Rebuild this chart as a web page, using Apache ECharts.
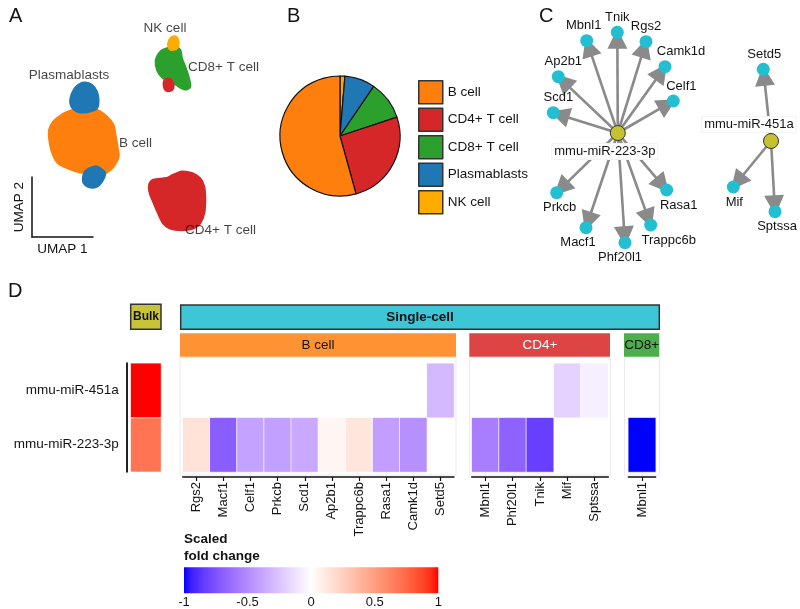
<!DOCTYPE html>
<html><head><meta charset="utf-8">
<script src="https://cdn.jsdelivr.net/npm/echarts/dist/echarts.min.js"></script>
<style>html,body{margin:0;padding:0;background:#fff}#c{width:800px;height:609px}</style>
</head><body><div id="c"></div>
<script>
// ---------------- DATA ----------------
// Panel A: UMAP cluster outlines (UMAP units)
const bCellOutline = [[68.3,111.7],[80,108.3],[96.7,110],[106.7,116.7],[113.3,125],[115,133.3],[117.3,146.7],[118.3,156.7],[113.3,166.7],[105,173.3],[100,176],[88.3,173.3],[78.3,171.7],[68.3,168.3],[58.3,163.3],[53.3,155],[50,143.3],[49.3,130],[53.3,121.7],[61.7,115]];
const plasmaTopOutline = [[85,82.7],[91.7,85],[96.7,91.7],[98.3,100],[96.7,108.3],[88.3,111.7],[78.3,111.7],[71.7,106.7],[70.7,98.3],[75,88.3],[80,84]];
const plasmaLowOutline = [[85,171.7],[95,166.7],[100,168.3],[105,173.3],[101.7,181.7],[96.7,186.7],[88.3,186.7],[83.3,181.7]];
const cd8Outline = [[163.3,50],[173.3,46.7],[180,50],[181.7,58.3],[185,66.7],[188.3,76.7],[190,86.7],[185,89.3],[176.7,85],[170,80],[163.3,78.3],[157.3,70],[156,60],[159.3,53.3]];
const cd4SmallOutline = [[165,80],[170,79.3],[173.3,85],[171.7,90],[166.7,90.7],[164,86]];
const cd4Outline = [[153.3,180],[166.7,178.3],[173.3,175],[181.7,171.7],[191.7,173.3],[200,178.3],[204,186.7],[205,200],[204,213.3],[200,223.3],[193.3,228.3],[181.7,230],[170,228.3],[163.3,223.3],[158.3,213.3],[154,203.3],[150,193.3],[149.3,185]];
const nkOutline = [[168.3,43.3],[171.7,37.3],[176,36.7],[178.3,41.7],[176.7,48.3],[170,49.3]];
const umapOutlines = [bCellOutline, plasmaTopOutline, plasmaLowOutline, cd8Outline, cd4SmallOutline, cd4Outline, nkOutline];
const umapOutlineType = ['B cell','Plasmablasts','Plasmablasts','CD8+ T cell','CD4+ T cell','CD4+ T cell','NK cell'];
const umapLabels = ['NK cell','CD8+ T cell','Plasmablasts','B cell','CD4+ T cell'];
const umapLabelX = [165,188,69,119,185];
const umapLabelY = [28,67,75,143,230];

// Panel B: cell composition (%)
const cellTypes = ['B cell','CD4+ T cell','CD8+ T cell','Plasmablasts','NK cell'];
const cellColors = ['#ff7f0e','#d62728','#2ca02c','#1f77b4','#ffab00'];
const pieOrder = ['NK cell','Plasmablasts','CD8+ T cell','CD4+ T cell','B cell'];
const piePercent = [1.3, 8.2, 10.4, 25.8, 54.3];

// Panel C: network
const mirNames = ['mmu-miR-223-3p','mmu-miR-451a'];
const mirX = [617.8, 771];
const mirY = [133, 141];
const targetNames = ['Mbnl1','Tnik','Rgs2','Camk1d','Celf1','Ap2b1','Scd1','Prkcb','Macf1','Phf20l1','Trappc6b','Rasa1','Setd5','Mif','Sptssa'];
const targetMir   = [0,0,0,0,0,0,0,0,0,0,0,0,1,1,1];
const targetX = [586.7,617.3,646,665,673.3,558.3,553.3,556.7,586,625,650.7,666.7,763.3,733.3,775];
const targetY = [40.7,32.3,41.7,66.7,101,76.7,112.7,192.7,227.7,242.7,225,190,69.3,187,211.7];

// Panel D: scaled fold change
const rowNames = ['mmu-miR-223-3p','mmu-miR-451a'];
const bulkValues = [0.69, 1];              // [223-3p, 451a]
const genesB = ['Rgs2','Macf1','Celf1','Prkcb','Scd1','Ap2b1','Trappc6b','Rasa1','Camk1d','Setd5'];
const bCell223 = [0.15,-0.70,-0.40,-0.41,-0.37,0.05,0.13,-0.42,-0.48,null];
const bCell451 = [null,null,null,null,null,null,null,null,null,-0.30];
const genesCD4 = ['Mbnl1','Phf20l1','Tnik','Mif','Sptssa'];
const cd4223 = [-0.56,-0.68,-0.83,null,null];
const cd4451 = [null,null,null,-0.19,-0.065];
const genesCD8 = ['Mbnl1'];
const cd8223 = [-1];
const cd8451 = [null];
const colorbarRange = [-1, 1];

// ---------------- COLOR (LAB interpolation blue-white-red) ----------------
function hexToRgb(h){return [parseInt(h.slice(1,3),16),parseInt(h.slice(3,5),16),parseInt(h.slice(5,7),16)];}
function s2l(c){c/=255;return c<=0.04045?c/12.92:Math.pow((c+0.055)/1.055,2.4);}
function l2s(c){c=c<=0.0031308?12.92*c:1.055*Math.pow(Math.max(c,0),1/2.4)-0.055;return Math.round(Math.max(0,Math.min(1,c))*255);}
function rgbToLab(rgb){const [r,g,b]=rgb.map(s2l);
  const X=(0.4124*r+0.3576*g+0.1805*b)/0.95047,Y=0.2126*r+0.7152*g+0.0722*b,Z=(0.0193*r+0.1192*g+0.9505*b)/1.08883;
  const f=t=>t>0.008856?Math.cbrt(t):7.787*t+16/116;const fx=f(X),fy=f(Y),fz=f(Z);
  return [116*fy-16,500*(fx-fy),200*(fy-fz)];}
function labToRgb(lab){const fy=(lab[0]+16)/116,fx=fy+lab[1]/500,fz=fy-lab[2]/200;
  const fi=t=>t>0.206893?t*t*t:(t-16/116)/7.787;
  const X=fi(fx)*0.95047,Y=fi(fy),Z=fi(fz)*1.08883;
  const r=3.2406*X-1.5372*Y-0.4986*Z,g=-0.9689*X+1.8758*Y+0.0415*Z,b=0.0557*X-0.2040*Y+1.0570*Z;
  return 'rgb('+l2s(r)+','+l2s(g)+','+l2s(b)+')';}
const LW=rgbToLab(hexToRgb('#ffffff')),LB=rgbToLab(hexToRgb('#0000ff')),LR=rgbToLab(hexToRgb('#ff0000'));
function colorAt(v){const e=v<0?LB:LR,t=Math.min(1,Math.abs(v));return labToRgb([0,1,2].map(i=>LW[i]+(e[i]-LW[i])*t));}
const rampStops=[];for(let i=0;i<=40;i++){rampStops.push(colorAt(-1+i*0.05));}

// ---------------- CHART ----------------
const FONT='"Liberation Sans", Arial, Helvetica, sans-serif';
const TXT='#141414';
const chart=echarts.init(document.getElementById('c'),null,{renderer:'canvas'});
const typeColor=n=>cellColors[cellTypes.indexOf(n)];

function hm(genes,vals223,vals451){const d=[];genes.forEach((g,i)=>{if(vals223[i]!=null)d.push([i,0,vals223[i]]);if(vals451[i]!=null)d.push([i,1,vals451[i]]);});return d;}

const hiddenAxis=(extra)=>Object.assign({show:false,axisLine:{show:false},axisTick:{show:false},axisLabel:{show:false},splitLine:{show:false}},extra);
const geneAxis=(idx,genes)=>({type:'category',gridIndex:idx,data:genes,offset:5,
  axisLine:{show:true,onZero:false,lineStyle:{color:'#111',width:1.5}},
  axisTick:{show:true,alignWithLabel:true,length:4,lineStyle:{color:'#111',width:1.2}},
  axisLabel:{rotate:90,fontSize:13,color:TXT,fontFamily:FONT,margin:5},splitLine:{show:false}});

const grids=[
  {left:32,top:177,width:61,height:60},          // 0 UMAP
  {left:530,top:0,width:270,height:270},         // 1 network
  {left:130.7,top:363.3,width:30.3,height:108.5},// 2 bulk
  {left:182.7,top:363.3,width:271.3,height:108.7},// 3 B cell
  {left:471.7,top:363.3,width:136.6,height:108.7},// 4 CD4
  {left:628.3,top:363.3,width:27.4,height:108.7}, // 5 CD8
  {left:184,top:567.3,width:254.3,height:26}      // 6 colorbar
].map(g=>Object.assign({outerBoundsMode:'none',containLabel:false},g));

const xAxes=[
  {type:'value',gridIndex:0,min:32,max:93,name:'UMAP 1',nameLocation:'middle',nameGap:5,
   nameTextStyle:{fontSize:13.5,color:TXT,fontFamily:FONT,verticalAlign:'top'},
   axisLine:{show:true,onZero:false,lineStyle:{color:'#111',width:1.5}},axisTick:{show:false},axisLabel:{show:false},splitLine:{show:false}},
  hiddenAxis({type:'value',gridIndex:1,min:530,max:800}),
  hiddenAxis({type:'category',gridIndex:2,data:['Bulk']}),
  geneAxis(3,genesB),geneAxis(4,genesCD4),geneAxis(5,genesCD8),
  {type:'value',gridIndex:6,min:-1,max:1,interval:0.5,axisLine:{show:false},axisTick:{show:false},splitLine:{show:false},
   axisLabel:{fontSize:13,color:TXT,fontFamily:FONT,margin:3}}
];
const yAxes=[
  {type:'value',gridIndex:0,min:177,max:237,inverse:true,name:'UMAP 2',nameLocation:'middle',nameGap:6,nameRotate:90,
   nameTextStyle:{fontSize:13.5,color:TXT,fontFamily:FONT},
   axisLine:{show:true,onZero:false,lineStyle:{color:'#111',width:1.5}},axisTick:{show:false},axisLabel:{show:false},splitLine:{show:false}},
  hiddenAxis({type:'value',gridIndex:1,min:0,max:270,inverse:true}),
  {type:'category',gridIndex:2,data:rowNames,offset:4,axisLine:{show:true,onZero:false,lineStyle:{color:'#222',width:2}},
   axisTick:{show:false},axisLabel:{fontSize:13.5,color:TXT,fontFamily:FONT,margin:8},splitLine:{show:false}},
  hiddenAxis({type:'category',gridIndex:3,data:rowNames}),
  hiddenAxis({type:'category',gridIndex:4,data:rowNames}),
  hiddenAxis({type:'category',gridIndex:5,data:rowNames}),
  hiddenAxis({type:'value',gridIndex:6,min:0,max:1})
];

// network nodes/links
const labelPlace={ // position, dx, distance
  'Mbnl1':['top',-3,2],'Tnik':['top',0,2],'Rgs2':['top',0,2],'Camk1d':['top',16,2],'Celf1':['top',8,2],'Ap2b1':['top',5,2],'Scd1':['top',5,2],
  'Prkcb':['bottom',3,2],'Macf1':['bottom',-8,2],'Phf20l1':['bottom',-5,2],'Trappc6b':['bottom',18,2],'Rasa1':['bottom',12,2],
  'Setd5':['top',1,2],'Mif':['bottom',1,2],'Sptssa':['bottom',2,2],
  'mmu-miR-223-3p':['bottom',-13,3],'mmu-miR-451a':['top',-22,1]};
const nodes=[];
mirNames.forEach((n,i)=>nodes.push({name:n,value:[mirX[i],mirY[i]],symbolSize:15,
  itemStyle:{color:'#c6c22f',borderColor:'#333',borderWidth:1},
  label:{position:labelPlace[n][0],offset:[labelPlace[n][1],0],distance:labelPlace[n][2],backgroundColor:'rgba(255,255,255,0.93)',borderColor:'#f3f3f3',borderWidth:1,padding:[1,2]}}));
targetNames.forEach((n,i)=>nodes.push({name:n,value:[targetX[i],targetY[i]],symbolSize:13,
  itemStyle:{color:'#22bfd1',borderWidth:0},label:{position:labelPlace[n][0],offset:[labelPlace[n][1],0],distance:labelPlace[n][2]}}));
const links=targetNames.map((n,i)=>({source:mirNames[targetMir[i]],target:n}));

const series=[];
// A: clusters
series.push({type:'custom',xAxisIndex:0,yAxisIndex:0,clip:false,silent:true,
  data:umapOutlines.map(o=>[o[0][0],o[0][1]]),encode:{x:0,y:1},
  renderItem:function(params,api){
    const poly=umapOutlines[params.dataIndex];const col=typeColor(umapOutlineType[params.dataIndex]);
    return {type:'polygon',shape:{points:poly.map(p=>api.coord(p)),smooth:0.3},style:{fill:col,stroke:col,lineWidth:2.5,lineJoin:'round'}};
  }});
series.push({type:'scatter',xAxisIndex:0,yAxisIndex:0,clip:false,silent:true,symbolSize:0,
  data:umapLabels.map((l,i)=>({name:l,value:[umapLabelX[i],umapLabelY[i]],
    label:{align:(l==='NK cell'||l==='Plasmablasts')?'center':'left'}})),
  label:{show:true,position:'inside',formatter:'{b}',fontSize:13.5,color:TXT,fontFamily:FONT,verticalAlign:'middle'}});
// B: pie
series.push({type:'pie',center:[340,136],radius:60,startAngle:90,clockwise:true,label:{show:false},labelLine:{show:false},
  silent:true,itemStyle:{borderColor:'#111',borderWidth:1.2},
  data:pieOrder.map((n,i)=>({name:n,value:piePercent[i],itemStyle:{color:typeColor(n)}}))});
// C: network
series.push({type:'graph',coordinateSystem:'cartesian2d',xAxisIndex:1,yAxisIndex:1,layout:'none',roam:false,silent:true,
  data:nodes,links:links,edgeSymbol:['none','triangle'],edgeSymbolSize:[0,20],
  lineStyle:{color:'#8a8a8a',width:2.6,opacity:1,curveness:0},
  label:{show:true,fontSize:13,color:TXT,fontFamily:FONT}});
// D: heatmaps
const hmStart=series.length;
const cellStyle={borderColor:'rgba(255,255,255,0.7)',borderWidth:1};
series.push({type:'heatmap',xAxisIndex:2,yAxisIndex:2,data:[[0,0,bulkValues[0]],[0,1,bulkValues[1]]],itemStyle:cellStyle,silent:true});
series.push({type:'heatmap',xAxisIndex:3,yAxisIndex:3,data:hm(genesB,bCell223,bCell451),itemStyle:cellStyle,silent:true});
series.push({type:'heatmap',xAxisIndex:4,yAxisIndex:4,data:hm(genesCD4,cd4223,cd4451),itemStyle:cellStyle,silent:true});
series.push({type:'heatmap',xAxisIndex:5,yAxisIndex:5,data:hm(genesCD8,cd8223,cd8451),itemStyle:cellStyle,silent:true});
// colorbar
series.push({type:'custom',xAxisIndex:6,yAxisIndex:6,silent:true,data:[[colorbarRange[0],0,colorbarRange[1],1]],encode:{x:[0,2],y:[1,3]},
  renderItem:function(params,api){
    const p0=api.coord([api.value(0),api.value(3)]),p1=api.coord([api.value(2),api.value(1)]);
    const stops=[];for(let i=0;i<=40;i++)stops.push({offset:i/40,color:colorAt(-1+i*0.05)});
    return {type:'rect',shape:{x:p0[0],y:p0[1],width:p1[0]-p0[0],height:p1[1]-p0[1]},
      style:{fill:new echarts.graphic.LinearGradient(0,0,1,0,stops)}};
  }});

const t=(text,x,y,opt)=>Object.assign({type:'text',x:x,y:y,z:10,style:Object.assign({text:text,fill:TXT,font:'13.5px '+FONT,textAlign:'center',textVerticalAlign:'middle'},opt||{})});
const r=(x,y,w,h,fill,stroke,lw,z)=>({type:'rect',z:z==null?5:z,shape:{x:x,y:y,width:w,height:h},style:{fill:fill,stroke:stroke||null,lineWidth:lw||0}});

const graphic=[
  t('A',9,16,{font:'20px '+FONT,textAlign:'left'}),
  t('B',287,16,{font:'20px '+FONT,textAlign:'left'}),
  t('C',539,16,{font:'20px '+FONT,textAlign:'left'}),
  t('D',8,291,{font:'20px '+FONT,textAlign:'left'}),
  // panel frames
  r(180,357.5,276,117.5,'#fff','#ebebeb',1,0),
  r(469.5,357.5,141,117.5,'#fff','#ebebeb',1,0),
  r(624.5,357.5,35,117.5,'#fff','#ebebeb',1,0),
  // headers
  r(130.7,304.3,30.3,25,'#c8c43a','#333',1.5),
  t('Bulk',146,317,{font:'bold 12px '+FONT,fill:'#111'}),
  r(180.7,305,478.6,24.3,'#3cc6d6','#333',1.5),
  t('Single-cell',420,317.5,{font:'bold 13.5px '+FONT,fill:'#111'}),
  r(180,333.3,276,23.4,'#ff9233'),
  t('B cell',318,345,{font:'13.5px '+FONT}),
  r(469.3,333.3,140.7,23.4,'#dd4545'),
  t('CD4+',540,345,{font:'13.5px '+FONT,fill:'#fff'}),
  r(624,333.3,35.3,23.4,'#4caf4c'),
  t('CD8+',641.7,345,{font:'13.5px '+FONT,fill:'#111'}),
  // colorbar title
  t('Scaled',184,539,{font:'bold 13.5px '+FONT,textAlign:'left'}),
  t('fold change',184,556,{font:'bold 13.5px '+FONT,textAlign:'left'})
];

chart.setOption({
  backgroundColor:'#fff',animation:false,
  textStyle:{fontFamily:FONT},
  grid:grids,xAxis:xAxes,yAxis:yAxes,
  legend:{show:true,data:cellTypes,orient:'vertical',left:413,top:75,itemWidth:24,itemHeight:23,itemGap:3,icon:'rect',
    itemStyle:{borderColor:'#333',borderWidth:1.5},textStyle:{fontSize:13.5,color:TXT,fontFamily:FONT},selectedMode:false},
  visualMap:{type:'continuous',show:false,min:-1,max:1,seriesIndex:[hmStart,hmStart+1,hmStart+2,hmStart+3],inRange:{color:rampStops}},
  graphic:graphic,
  series:series
});
</script></body></html>
